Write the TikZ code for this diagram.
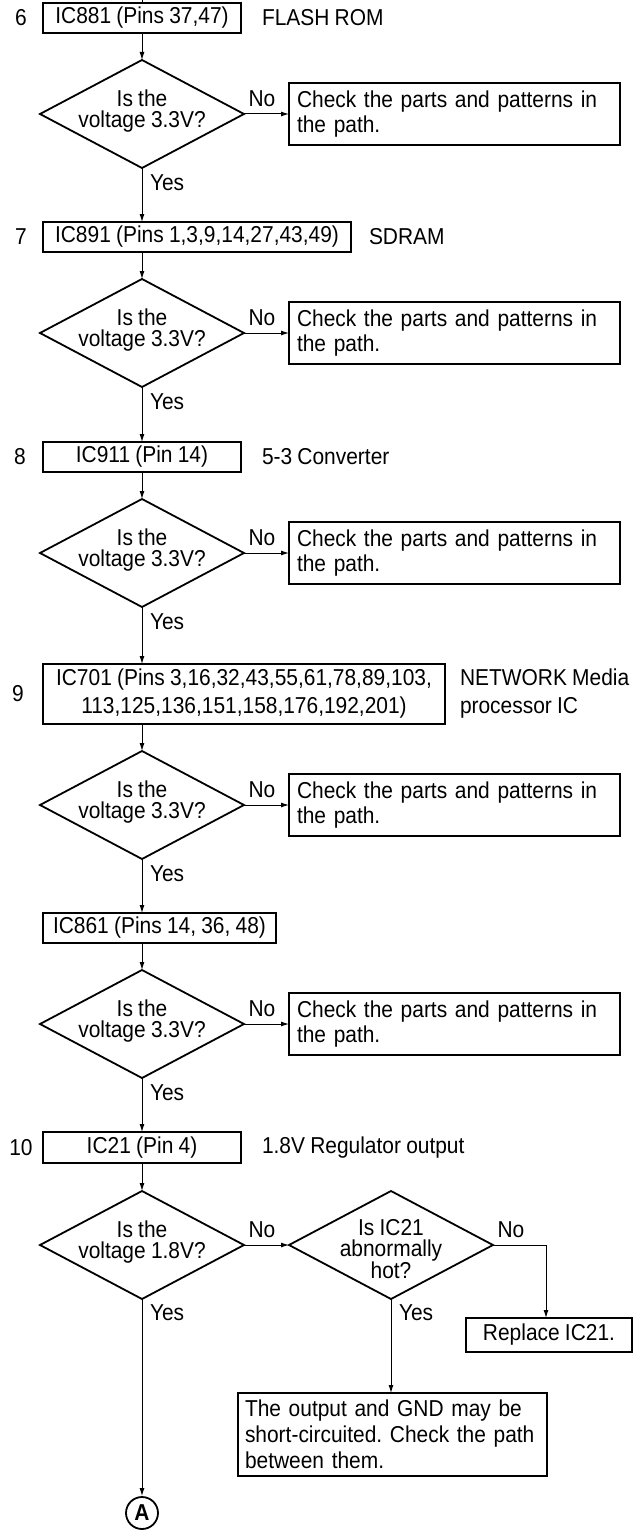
\documentclass[tikz,border=0pt]{standalone}
\usepackage{fontspec}
\setmainfont{Liberation Sans}[FakeStretch=0.91, WordSpace=0.9]
\usetikzlibrary{shapes.geometric,arrows.meta}
\tikzset{
  base/.style={font=\fontsize{23}{25}\selectfont, inner sep=0pt, outer sep=0pt},
  box/.style={base, draw, line width=1.8pt, rectangle, align=center},
  chk/.style={base, draw, line width=1.8pt, rectangle, minimum width=331pt, minimum height=62pt, text width=315pt, align=left},
  dia/.style={draw, diamond, line width=1.8pt, minimum width=204pt, minimum height=108pt, inner sep=0pt, outer sep=0pt},
  qtext/.style={base, align=center, font=\fontsize{23}{21}\selectfont},
  lbl/.style={base},
  conn/.style={line width=1pt, -{Latex[length=8pt,width=5pt]}},
  plain/.style={line width=1pt},
}
\frenchspacing
\begin{document}
\frenchspacing
\begin{tikzpicture}[x=1pt,y=-1pt]
\useasboundingbox (0,0) rectangle (637,1536);
% boxes
\node[box, minimum width=198pt, minimum height=30pt] (b1) at (142,18) {IC881 (Pins 37,47)};
\node[box, minimum width=308pt, minimum height=30pt] (b2) at (197,237) {IC891 (Pins 1,3,9,14,27,43,49)};
\node[box, minimum width=198pt, minimum height=30pt] (b3) at (142,457) {IC911 (Pin 14)};
\node[box, minimum width=402pt, minimum height=60pt, font=\fontsize{23}{28}\selectfont] (b4) at (244,694) {IC701 (Pins 3,16,32,43,55,61,78,89,103,\\113,125,136,151,158,176,192,201)};
\node[box, minimum width=233pt, minimum height=30pt] (b5) at (159.5,928) {IC861 (Pins 14, 36, 48)};
\node[box, minimum width=198pt, minimum height=31pt] (b6) at (142,1147.5) {IC21 (Pin 4)};
% step numbers
\node[lbl] (n6) at (21,18) {6};
\node[lbl] (n7) at (21,237) {7};
\node[lbl] (n8) at (20,457) {8};
\node[lbl] (n9) at (18,694) {9};
\node[lbl] (n10) at (21,1148) {10};
% side labels
\node[lbl, anchor=west] (s1) at (262,18) {FLASH ROM};
\node[lbl, anchor=west] (s2) at (369,237) {SDRAM};
\node[lbl, anchor=west] (s3) at (262,457) {5-3 Converter};
\node[lbl, anchor=west, align=left, font=\fontsize{23}{28}\selectfont] (s4) at (460,694) {NETWORK Media\\processor IC};
\node[lbl, anchor=west] (s6) at (262,1148) {1.8V Regulator output};
% diamonds
\node[dia] (d1) at (142,114) {};
\node[dia] (d2) at (142,333) {};
\node[dia] (d3) at (142,553) {};
\node[dia] (d4) at (142,805) {};
\node[dia] (d5) at (142,1024) {};
\node[dia] (d6) at (142,1245) {};
\node[dia] (d7) at (391,1245) {};
\node[qtext] (q1) at (142,111) {Is the\\voltage 3.3V?};
\node[qtext] (q2) at (142,330) {Is the\\voltage 3.3V?};
\node[qtext] (q3) at (142,550) {Is the\\voltage 3.3V?};
\node[qtext] (q4) at (142,802) {Is the\\voltage 3.3V?};
\node[qtext] (q5) at (142,1021) {Is the\\voltage 3.3V?};
\node[qtext] (q6) at (142,1242) {Is the\\voltage 1.8V?};
\node[qtext] (q7) at (391,1249) {Is IC21\\abnormally\\hot?};
% check boxes
\node[chk] (c1) at (454.5,114) {Check the parts and patterns in\\the path.};
\node[chk] (c2) at (454.5,333) {Check the parts and patterns in\\the path.};
\node[chk] (c3) at (454.5,553) {Check the parts and patterns in\\the path.};
\node[chk] (c4) at (454.5,805) {Check the parts and patterns in\\the path.};
\node[chk] (c5) at (454.5,1024) {Check the parts and patterns in\\the path.};
\node[box, minimum width=166pt, minimum height=34pt] (rep) at (549,1335) {Replace IC21.};
\node[chk, minimum width=309pt, minimum height=83pt, text width=295pt, font=\fontsize{23}{26}\selectfont] (out) at (392.5,1434.5) {The output and GND may be\\short-circuited. Check the path\\between them.};
\node[draw, circle, line width=1.8pt, minimum size=32pt, inner sep=0pt, font=\fontsize{23}{25}\selectfont\bfseries] (A) at (142,1513) {A};
% No / Yes labels
\node[lbl] (no1) at (262,99) {No};
\node[lbl] (no2) at (262,318) {No};
\node[lbl] (no3) at (262,538) {No};
\node[lbl] (no4) at (262,790) {No};
\node[lbl] (no5) at (262,1009) {No};
\node[lbl] (no6) at (262,1230) {No};
\node[lbl] (no7) at (511,1230) {No};
\node[lbl, anchor=west] (y1) at (150,183) {Yes};
\node[lbl, anchor=west] (y2) at (150,402) {Yes};
\node[lbl, anchor=west] (y3) at (150,622) {Yes};
\node[lbl, anchor=west] (y4) at (150,874) {Yes};
\node[lbl, anchor=west] (y5) at (150,1093) {Yes};
\node[lbl, anchor=west] (y6) at (150,1313) {Yes};
\node[lbl, anchor=west] (y7) at (399,1313) {Yes};
% connectors
\coordinate (top) at (142,0);
\draw[plain] (top) -- (b1.north);
\draw[conn] (b1.south) -- (d1.north);
\draw[conn] (d1.east) -- (c1.west);
\draw[conn] (d1.south) -- (d1.south |- b2.north);
\draw[conn] (d1.south |- b2.south) -- (d2.north);
\draw[conn] (d2.east) -- (c2.west);
\draw[conn] (d2.south) -- (b3.north);
\draw[conn] (b3.south) -- (d3.north);
\draw[conn] (d3.east) -- (c3.west);
\draw[conn] (d3.south) -- (d3.south |- b4.north);
\draw[conn] (d3.south |- b4.south) -- (d4.north);
\draw[conn] (d4.east) -- (c4.west);
\draw[conn] (d4.south) -- (d4.south |- b5.north);
\draw[conn] (d4.south |- b5.south) -- (d5.north);
\draw[conn] (d5.east) -- (c5.west);
\draw[conn] (d5.south) -- (b6.north);
\draw[conn] (b6.south) -- (d6.north);
\draw[conn] (d6.east) -- (d7.west);
\draw[conn] (d7.east) -| ([xshift=-3pt]rep.north);
\draw[conn] (d7.south) -- (d7.south |- out.north);
\draw[conn] (d6.south) -- (A.north);
\end{tikzpicture}
\end{document}
